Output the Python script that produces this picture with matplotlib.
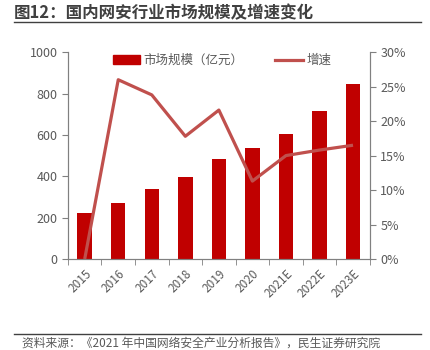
import matplotlib
matplotlib.use("Agg")
import matplotlib.pyplot as plt
from matplotlib.lines import Line2D
from matplotlib.ticker import PercentFormatter, FixedLocator

plt.rcParams['font.family'] = ['Noto Sans CJK SC', 'DejaVu Sans']

years = ["2015", "2016", "2017", "2018", "2019", "2020", "2021E", "2022E", "2023E"]
market = [222, 272, 337, 397, 482, 537, 603, 714, 845]
growth = [0.0, 26.0, 23.8, 17.8, 21.6, 11.3, 15.0, 15.8, 16.5]

gray = "#595959"
axis_gray = "#808080"

fig = plt.figure(figsize=(4.3, 3.5), dpi=100)
ax = fig.add_axes([0.158, 0.26, 0.702, 0.591])
ax2 = ax.twinx()

x = list(range(len(years)))
ax.bar(x, market, width=0.43, color="#C00000", label="市场规模（亿元）", zorder=2)
ax2.plot(x, growth, color="#C0504D", lw=2.3, label="增速", clip_on=False, solid_capstyle="butt")

ax.set_xlim(-0.5, len(years) - 0.5)
ax.set_ylim(0, 1000)
ax.set_yticks(range(0, 1001, 200))
ax2.set_ylim(0, 30)
ax2.set_yticks(range(0, 31, 5))
ax2.yaxis.set_major_formatter(PercentFormatter(decimals=0))

ax.set_xticks(x)
ax.set_xticklabels(years, rotation=45, ha="right", rotation_mode="anchor")
ax.tick_params(axis="x", length=0, pad=6)
ax.xaxis.set_minor_locator(FixedLocator([i - 0.5 for i in range(len(years) + 1)]))
ax.tick_params(axis="x", which="minor", length=4, color=axis_gray)

for a in (ax, ax2):
    a.spines["top"].set_visible(False)
    for s in ("left", "right", "bottom"):
        a.spines[s].set_color(axis_gray)
    a.tick_params(colors=gray, labelsize=9)
ax.tick_params(axis="y", length=4, color=axis_gray)
ax2.tick_params(axis="y", length=4, color=axis_gray)
ax.tick_params(axis="x", colors=gray, labelsize=8.5)

handles = [plt.Rectangle((0, 0), 1, 1, color="#C00000"),
           Line2D([0], [0], color="#C0504D", lw=2.3)]
ax2.legend(handles, ["市场规模（亿元）", "增速"], loc="upper center", ncol=2, frameon=False,
           bbox_to_anchor=(0.51, 1.045), fontsize=9, labelcolor=gray, handlelength=2.2,
           columnspacing=2.5, handletextpad=0.3)

fig.text(0.033, 0.963, "图12：国内网安行业市场规模及增速变化", fontsize=11.9, fontweight="bold",
         color="#404040", va="center")
fig.add_artist(Line2D([0.033, 0.979], [0.937, 0.937], color="#404040", lw=1))
fig.add_artist(Line2D([0.033, 0.979], [0.046, 0.046], color="#404040", lw=1))
fig.text(0.05, 0.02, "资料来源：《2021 年中国网络安全产业分析报告》，民生证券研究院", fontsize=8.5,
         color=gray, va="center")

fig.savefig("out.png", dpi=100)
